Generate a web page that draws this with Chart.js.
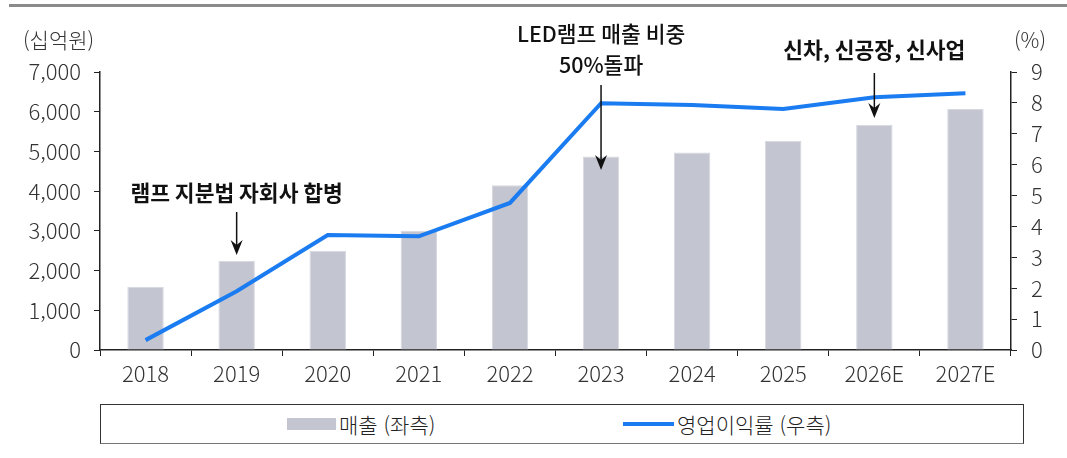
<!DOCTYPE html>
<html lang="ko">
<head>
<meta charset="utf-8">
<script src="https://cdn.jsdelivr.net/npm/chart.js@4.4.1/dist/chart.umd.min.js"></script>
<style>
    body { margin: 0; background: #fff; font-family: "Noto Sans CJK KR", sans-serif; }
    .wrap { position: relative; width: 1067px; height: 458px; overflow: hidden; }
    .topline { position: absolute; left: 9px; top: 4px; width: 1058px; height: 3px; background: #8a8a8a; }
    #chart { position: absolute; left: 0; top: 0; }
    .legend {
        position: absolute; left: 100px; top: 404px; width: 924px; height: 40px;
        border: 1px solid #333; border-bottom-color: #777; box-sizing: border-box;
        font-size: 21px; font-weight: 300; color: #222;
    }
    .legend-item { position: absolute; top: 5px; display: flex; align-items: center; height: 28px; }
    .legend-bar { width: 49px; height: 12px; background: #c3c5d1; margin-right: 3px; }
    .legend-line { width: 51px; height: 4px; background: #1a7cf0; margin-right: 3px; }
</style>
</head>
<body>
<div class="wrap">
    <div class="topline"></div>
    <canvas id="chart" width="1067" height="400"></canvas>
    <div class="legend">
        <div class="legend-item" style="left: 186px;"><div class="legend-bar"></div><span>매출 (좌측)</span></div>
        <div class="legend-item" style="left: 522px;"><div class="legend-line"></div><span>영업이익률 (우측)</span></div>
    </div>
</div>
<script>
// Chart data
const years = ['2018', '2019', '2020', '2021', '2022', '2023', '2024', '2025', '2026E', '2027E'];
const sales = [1590, 2250, 2500, 3000, 4150, 4870, 4970, 5270, 5670, 6070];
const opMargin = [0.32, 1.9, 3.72, 3.68, 4.76, 7.99, 7.93, 7.8, 8.18, 8.31];
const leftTicks = [0, 1000, 2000, 3000, 4000, 5000, 6000, 7000];
const rightTicks = [0, 1, 2, 3, 4, 5, 6, 7, 8, 9];

const FONT = '"Noto Sans CJK KR", sans-serif';

// Annotations: text lines above an arrow pointing at a category
const notes = [
    { index: 1, lines: ['램프 지분법 자회사 합병'], weight: ['bold'], textY: [193], arrowFrom: 212, arrowTo: 255 },
    { index: 5, lines: ['LED램프 매출 비중', '50%돌파'], weight: ['500', '500'], textY: [34, 65], arrowFrom: 85, arrowTo: 170 },
    { index: 8, lines: ['신차, 신공장, 신사업'], weight: ['bold'], textY: [50], arrowFrom: 73, arrowTo: 118 }
];

const annotationPlugin = {
    id: 'notes',
    afterDraw(chart) {
        const ctx = chart.ctx;
        const x = chart.scales.x;
        ctx.save();
        // axis titles
        ctx.fillStyle = '#333';
        ctx.font = '300 21px ' + FONT;
        ctx.textBaseline = 'middle';
        ctx.textAlign = 'left';
        ctx.fillText('(십억원)', 23, 40);
        ctx.fillText('(%)', 1014, 40);

        notes.forEach(n => {
            const cx = x.getPixelForValue(n.index);
            ctx.fillStyle = '#111';
            ctx.textAlign = 'center';
            n.lines.forEach((line, i) => {
                ctx.font = n.weight[i] + ' 21.5px ' + FONT;
                ctx.fillText(line, cx, n.textY[i]);
            });
            ctx.strokeStyle = '#111';
            ctx.lineWidth = 1.5;
            ctx.beginPath();
            ctx.moveTo(cx, n.arrowFrom);
            ctx.lineTo(cx, n.arrowTo - 8);
            ctx.stroke();
            ctx.beginPath();
            ctx.moveTo(cx - 6, n.arrowTo - 15);
            ctx.lineTo(cx, n.arrowTo - 10);
            ctx.lineTo(cx + 6, n.arrowTo - 15);
            ctx.lineTo(cx, n.arrowTo);
            ctx.closePath();
            ctx.fillStyle = '#111';
            ctx.fill();
        });
        ctx.restore();
    }
};

const tickFont = { family: FONT, size: 22, weight: '300' };

new Chart(document.getElementById('chart').getContext('2d'), {
    data: {
        labels: years,
        datasets: [
            {
                type: 'line',
                label: '영업이익률 (우측)',
                data: opMargin,
                yAxisID: 'y1',
                borderColor: '#1a7cf0',
                borderWidth: 4,
                pointRadius: 0,
                tension: 0,
                order: 0
            },
            {
                type: 'bar',
                label: '매출 (좌측)',
                data: sales,
                yAxisID: 'y',
                backgroundColor: '#c3c5d1',
                borderColor: '#d6d8e0',
                borderWidth: 1,
                barPercentage: 0.4,
                categoryPercentage: 1,
                order: 1
            }
        ]
    },
    options: {
        responsive: false,
        animation: false,
        layout: { padding: { top: 72, left: 0, right: 0, bottom: 0 } },
        plugins: {
            legend: { display: false },
            tooltip: { enabled: false }
        },
        scales: {
            x: {
                offset: true,
                grid: { offset: true, drawOnChartArea: false, tickLength: 6, color: '#222' },
                border: { color: '#222', width: 1.5 },
                ticks: { color: '#333', font: tickFont, padding: 4 },
                afterFit(scale) { scale.height = 50; }
            },
            y: {
                position: 'left',
                min: 0,
                max: 7000,
                afterBuildTicks(scale) { scale.ticks = leftTicks.map(v => ({ value: v })); },
                grid: { drawOnChartArea: false, tickLength: 6, color: '#222' },
                border: { color: '#222', width: 1.5 },
                ticks: {
                    color: '#333', font: tickFont, padding: 13,
                    callback: v => v.toLocaleString('en-US')
                },
                afterFit(scale) { scale.width = 100; }
            },
            y1: {
                position: 'right',
                min: 0,
                max: 9,
                afterBuildTicks(scale) { scale.ticks = rightTicks.map(v => ({ value: v })); },
                grid: { drawOnChartArea: false, tickLength: 6, color: '#222' },
                border: { color: '#222', width: 1.5 },
                ticks: { color: '#333', font: tickFont, padding: 14 },
                afterFit(scale) { scale.width = 56; }
            }
        }
    },
    plugins: [annotationPlugin]
});
</script>
</body>
</html>
